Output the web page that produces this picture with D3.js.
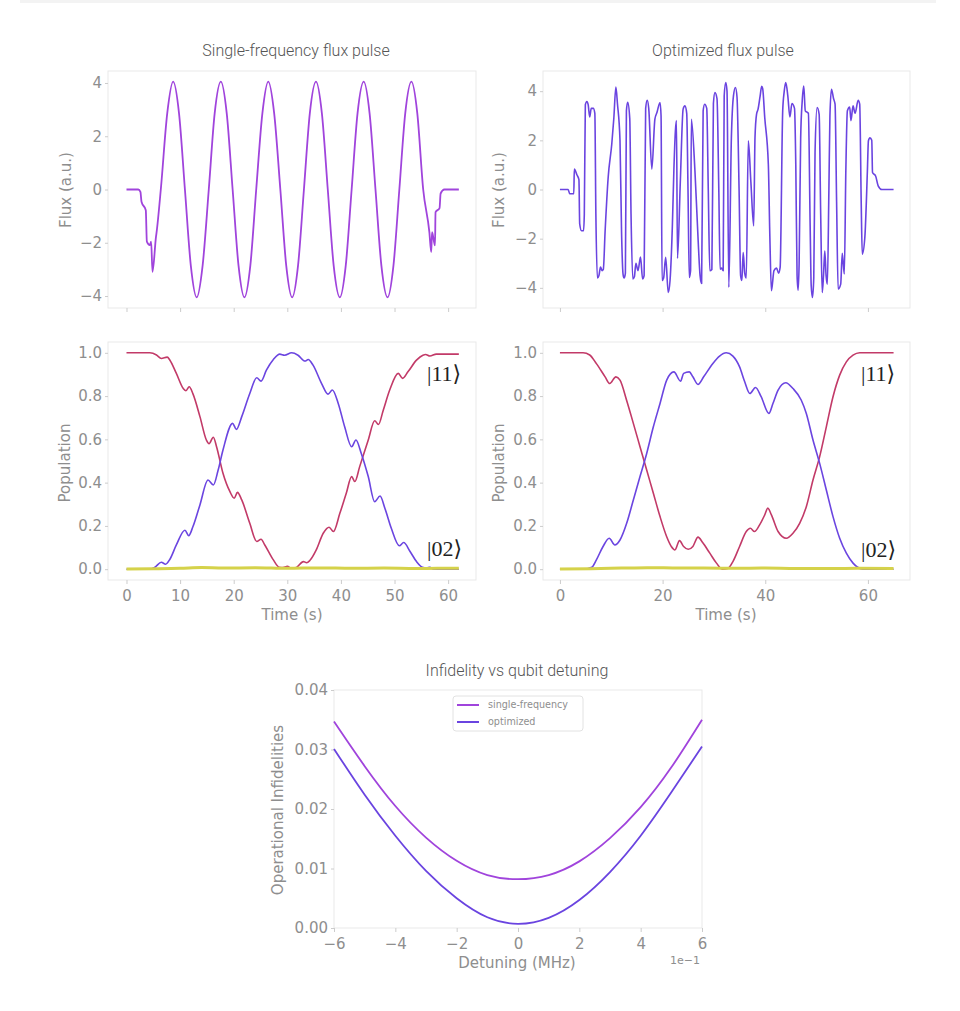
<!DOCTYPE html>
<meta charset="utf-8">
<script src="https://d3js.org/d3.v7.min.js"></script>
<style>
  body { margin: 0; background: #fff; }
</style>
<div id="chart"></div>

<script>
// values

// single-frequency flux pulse: [time (s), flux (a.u.)]
var fluxSingle = [
  [0,0],[2.2,0],[2.6,-0.09],[2.8,-0.46],[3.6,-0.78],[3.8,-1.96],[4.35,-2.09],[4.6,-1.96],
  [4.85,-3.09],[5.5,-1.78],[5.6,-1.63],[6.4,0],[7.6,2.86],[8.7,4.05],[9.8,2.86],[10.9,0],
  [12.0,-2.86],[13.1,-4.05],[14.2,-2.86],[15.35,0],[16.45,2.86],[17.6,4.05],[18.7,2.86],
  [19.8,0],[20.9,-2.86],[22.0,-4.05],[23.1,-2.86],[24.2,0],[25.35,2.86],[26.45,4.05],
  [27.55,2.86],[28.7,0],[29.8,-2.86],[30.9,-4.05],[32.0,-2.86],[33.1,0],[34.2,2.86],
  [35.35,4.05],[36.45,2.86],[37.55,0],[38.65,-2.86],[39.8,-4.05],[40.9,-2.86],[42.0,0],
  [43.1,2.86],[44.25,4.05],[45.35,2.86],[46.45,0],[47.55,-2.86],[48.7,-4.05],[49.8,-2.86],
  [50.9,0],[52.0,2.86],[53.15,4.05],[54.25,2.86],[55.35,0],[56.5,-1.6],[56.85,-2.35],
  [57.0,-1.6],[57.55,-2.1],[57.65,-0.85],[58.4,-0.7],[58.6,-0.15],[59.3,0],[62,0]
];

// optimized flux pulse: [time (s), flux (a.u.)]
var fluxOptimized = [
  [0,0],[1.6,0],[1.9,-0.17],[2.7,-0.17],[2.8,0.83],[3.3,0.6],[3.7,0.4],[3.85,-1.4],
  [4.2,-1.68],[4.6,-1.68],[4.75,-1.0],[4.95,3.45],[5.25,3.58],[5.5,3.45],[5.8,2.95],
  [6.1,3.3],[6.5,3.3],[6.8,3.1],[7.0,-1.0],[7.3,-3.6],[7.6,-3.5],[7.9,-3.15],[8.2,-3.3],
  [8.45,-3.25],[8.8,-1.7],[9.4,0.5],[10.1,1.85],[10.5,2.9],[10.9,4.17],[11.2,3.5],
  [11.7,2.0],[12.0,-1.7],[12.3,-3.45],[12.5,-3.6],[12.75,-3.4],[12.95,3.2],[13.2,3.55],
  [13.6,2.9],[13.85,-1.0],[14.2,-3.64],[14.5,-3.55],[14.8,-3.0],[15.2,-3.3],[15.7,-2.75],
  [16.1,-3.64],[16.4,-3.5],[16.7,3.3],[17.0,3.63],[17.3,3.3],[17.9,0.83],[18.5,2.86],
  [18.9,3.13],[19.5,3.54],[19.7,3.0],[19.9,-3.7],[20.2,-3.6],[20.6,-2.76],[21.1,-4.19],
  [21.45,-3.7],[21.9,-1.5],[22.2,0.8],[22.5,2.4],[22.7,2.8],[22.9,-2.8],[23.45,0.3],
  [24.0,3.27],[24.35,3.4],[24.7,3.1],[24.95,0],[25.2,-3.58],[25.45,-3.3],[25.6,2.86],
  [26.3,0.76],[26.9,-1.95],[27.3,-3.5],[27.6,-3.82],[27.9,3.2],[28.2,3.47],[28.6,3.3],
  [28.9,0],[29.2,-3.3],[29.6,-3.25],[29.9,3.5],[30.2,3.94],[30.6,3.7],[30.95,0],
  [31.2,-3.24],[31.5,-3.2],[31.8,-3.3],[32.0,3.8],[32.3,4.35],[32.55,4.0],[32.9,-3.98],
  [33.4,2.1],[33.8,3.8],[34.2,4.15],[34.5,3.75],[34.9,0],[35.2,-3.5],[35.45,-3.7],
  [35.7,-2.56],[36.0,-3.4],[36.3,-3.6],[36.7,1.98],[37.2,0.3],[37.75,-1.48],[38.0,2.1],
  [38.3,3.06],[38.6,3.27],[39.0,3.8],[39.3,4.2],[39.5,4.1],[39.9,2.93],[40.6,1.03],
  [40.9,-1.95],[41.2,-4.12],[41.7,-3.3],[42.2,-3.2],[42.6,-3.4],[42.9,-3.17],[43.4,3.2],
  [43.7,4.0],[44.0,4.35],[44.4,3.8],[44.8,2.95],[45.2,3.5],[45.7,3.3],[45.95,1.0],
  [46.2,-3.5],[46.4,-4.1],[46.6,-3.0],[46.9,2.1],[47.2,3.6],[47.5,4.21],[47.8,3.2],
  [48.4,3.1],[48.75,-1.5],[48.95,-3.9],[49.2,-4.39],[49.45,-3.6],[49.7,1.5],[50.1,3.33],
  [50.5,3.06],[50.8,-1.0],[51.1,-4.19],[51.35,-3.5],[51.6,-2.5],[51.85,-3.5],[52.1,-3.85],
  [52.4,0],[52.6,3.0],[52.9,4.08],[53.3,3.7],[53.6,3.47],[53.9,-0.5],[54.2,-4.05],
  [54.7,-3.85],[55.0,-2.6],[55.4,-3.44],[55.7,0.76],[56.0,3.2],[56.45,3.35],[56.7,2.8],
  [57.1,3.4],[57.5,3.1],[58.1,3.63],[58.4,3.47],[58.7,-0.6],[58.9,-2.63],[59.4,-1.95],
  [59.9,0.76],[60.1,1.98],[60.4,2.1],[60.75,2.0],[60.9,0.69],[61.5,0.55],[62.0,0.15],
  [62.7,0],[65,0]
];

// populations, single-frequency pulse: [time (s), population]
var pop11Single = [
  [0,1.0],[4.35,1.0],[5.6,0.99],[6.5,0.974],[7.6,0.98],[8.1,0.966],[9.3,0.905],[10.6,0.835],
  [11.1,0.825],[11.7,0.843],[12.4,0.81],[13.7,0.705],[14.9,0.597],[15.4,0.58],[16.2,0.61],
  [16.8,0.566],[18.0,0.443],[19.3,0.358],[20.1,0.328],[20.7,0.355],[21.5,0.32],[23.0,0.212],
  [24.3,0.128],[25.1,0.138],[25.8,0.112],[27.4,0.043],[28.5,0.009],[29.2,0.008],[30.0,0.013],
  [30.8,0.004],[31.7,0.008],[33.0,0.035],[33.6,0.03],[34.2,0.04],[35.4,0.089],[36.7,0.166],
  [37.8,0.194],[38.6,0.174],[39.8,0.258],[41.0,0.351],[42.0,0.428],[42.6,0.405],[43.5,0.474],
  [45.1,0.597],[46.3,0.686],[47.0,0.669],[47.9,0.735],[49.1,0.828],[50.7,0.905],[51.5,0.882],
  [52.5,0.912],[54.1,0.966],[55.3,0.989],[55.8,0.992],[56.6,0.985],[57.8,0.994],[62,0.994]
];
var pop02Single = [
  [0,0],[4.35,0],[5.3,0.009],[6.5,0.032],[7.3,0.023],[8.1,0.046],[9.3,0.112],[10.9,0.18],
  [11.6,0.155],[12.4,0.197],[13.7,0.297],[15.2,0.412],[16.2,0.389],[17.1,0.458],[18.0,0.551],
  [19.8,0.674],[20.5,0.646],[21.5,0.705],[23.0,0.812],[24.3,0.885],[25.1,0.869],[26.1,0.92],
  [27.4,0.969],[28.6,0.994],[29.5,0.989],[30.8,1.0],[32.0,0.989],[33.3,0.962],[33.9,0.969],
  [34.8,0.943],[36.4,0.858],[37.6,0.809],[38.4,0.828],[39.5,0.766],[40.7,0.658],[42.0,0.566],
  [42.8,0.597],[43.8,0.535],[45.1,0.428],[46.3,0.312],[47.3,0.338],[48.2,0.282],[49.4,0.189],
  [50.9,0.108],[51.7,0.123],[52.9,0.082],[54.1,0.035],[55.2,0.009],[56.0,0.006],[56.6,0.009],
  [57.2,0],[62,0]
];
var leakSingle = [
  [0,0.001],[5,0.002],[10,0.004],[14,0.008],[18,0.005],[24,0.007],[30,0.004],[36,0.006],
  [42,0.004],[48,0.005],[54,0.003],[58,0.004],[62,0.004]
];

// populations, optimized pulse
var pop11Opt = [
  [0,1.0],[4.5,1.0],[5.8,0.99],[7.1,0.95],[8.8,0.889],[9.7,0.858],[10.9,0.889],[11.7,0.874],
  [13.0,0.78],[14.3,0.674],[15.6,0.566],[16.9,0.458],[18.2,0.351],[19.5,0.243],[20.8,0.15],
  [21.7,0.105],[22.4,0.089],[23.3,0.132],[24.1,0.105],[25.0,0.092],[25.9,0.105],[26.9,0.148],
  [27.8,0.123],[29.2,0.074],[30.5,0.028],[31.6,0.0],[32.7,0.003],[33.7,0.035],[35.0,0.105],
  [36.3,0.174],[37.1,0.189],[37.9,0.174],[38.9,0.205],[39.9,0.251],[40.5,0.282],[41.2,0.251],
  [42.5,0.174],[44.1,0.143],[45.4,0.166],[46.7,0.212],[48.0,0.289],[49.3,0.412],[50.6,0.52],
  [51.9,0.658],[53.2,0.797],[54.5,0.897],[55.8,0.958],[57.1,0.989],[58.4,1.0],[65,1.0]
];
var pop02Opt = [
  [0,0],[4.5,0],[6.2,0.009],[7.1,0.043],[8.4,0.105],[9.6,0.143],[10.7,0.112],[11.7,0.135],
  [13.0,0.212],[14.3,0.32],[15.6,0.428],[16.9,0.535],[18.2,0.658],[19.5,0.766],[20.8,0.874],
  [22.2,0.912],[23.5,0.869],[24.1,0.905],[25.2,0.912],[25.9,0.889],[26.9,0.854],[28.0,0.889],
  [29.8,0.951],[31.1,0.985],[32.4,1.0],[33.7,0.985],[35.0,0.935],[36.0,0.866],[37.0,0.812],
  [38.1,0.84],[39.2,0.797],[40.7,0.72],[41.5,0.766],[42.5,0.828],[44.0,0.862],[45.4,0.835],
  [47.0,0.782],[48.0,0.72],[49.3,0.597],[50.6,0.489],[51.9,0.366],[53.2,0.243],[54.5,0.143],
  [55.8,0.074],[57.1,0.028],[58.0,0.009],[59.0,0],[65,0]
];
var leakOpt = [
  [0,0.001],[6,0.002],[12,0.005],[17,0.007],[22,0.006],[28,0.005],[34,0.004],[40,0.005],
  [46,0.003],[52,0.003],[58,0.004],[65,0.003]
];

// infidelity vs detuning (detuning in units of 1e-1 MHz)
var detuning = [-6, -5, -4, -3, -2, -1, 0, 1, 2, 3, 4, 5, 6];
var infidelitySingle = [0.0347, 0.0272, 0.0205, 0.0152, 0.0113, 0.0089, 0.0082, 0.0089, 0.0112, 0.0151, 0.0203, 0.0270, 0.0350];
var infidelityOpt = [0.0301, 0.0224, 0.0155, 0.0096, 0.0050, 0.0018, 0.0007, 0.0017, 0.0047, 0.0094, 0.0155, 0.0228, 0.0305];

// tick labels
var fluxTicks = [-4, -2, 0, 2, 4];
var popTicks = [0, 0.2, 0.4, 0.6, 0.8, 1.0];
var timeTicksSingle = [0, 10, 20, 30, 40, 50, 60];
var timeTicksOpt = [0, 20, 40, 60];
var detuningTicks = [-6, -4, -2, 0, 2, 4, 6];
var infidelityTicks = [0, 0.01, 0.02, 0.03, 0.04];

var legendLabels = ["single-frequency", "optimized"];

//----------------drawing stuff---------------------

var colSingle = "#a044dc", colOpt = "#6a44e0";
var colRed = "#c23a68", colBlue = "#6b45e0", colYellow = "#d5d24a";
var grey = "#8e8e8e";

var svg = d3.select("#chart")
  .append("svg")
  .attr("width", 960)
  .attr("height", 1011);

// faint band along the top edge
svg.append("rect")
  .attr("x", 20).attr("y", 0).attr("width", 916).attr("height", 3)
  .attr("fill", "#f3f3f3");

function panel(box, xDomain, yDomain) {
  var x = d3.scaleLinear().domain(xDomain).range([box.left, box.left + box.width]);
  var y = d3.scaleLinear().domain(yDomain).range([box.top + box.height, box.top]);
  svg.append("rect")
    .attr("x", box.left).attr("y", box.top)
    .attr("width", box.width).attr("height", box.height)
    .attr("fill", "none")
    .attr("stroke", "#e9e9e9");
  return {x: x, y: y, box: box};
}

function axes(p, xTicks, yTicks, xFmt, yFmt) {
  var gx = svg.append("g")
    .attr("transform", "translate(0," + (p.box.top + p.box.height) + ")")
    .call(d3.axisBottom(p.x).tickValues(xTicks).tickFormat(xFmt).tickSize(4).tickPadding(6));
  var gy = svg.append("g")
    .attr("transform", "translate(" + p.box.left + ",0)")
    .call(d3.axisLeft(p.y).tickValues(yTicks).tickFormat(yFmt).tickSize(3).tickPadding(3));
  [gx, gy].forEach(function(g) {
    g.select(".domain").remove();
    g.selectAll(".tick line").attr("stroke", "#cccccc");
    g.selectAll(".tick text")
      .attr("fill", grey)
      .style("font-family", "'DejaVu Sans', sans-serif")
      .style("font-size", "15px");
  });
}

function drawLine(p, data, color, width, curve) {
  svg.append("path")
    .datum(data)
    .attr("fill", "none")
    .attr("stroke", color)
    .attr("stroke-width", width)
    .attr("stroke-linejoin", "round")
    .attr("d", d3.line()
      .x(function(d) { return p.x(d[0]); })
      .y(function(d) { return p.y(d[1]); })
      .curve(curve || d3.curveMonotoneX));
}

function title(txt, x, y) {
  svg.append("text")
    .attr("x", x).attr("y", y)
    .attr("text-anchor", "middle")
    .style("font-family", "Roboto, sans-serif")
    .style("font-weight", 300)
    .style("font-size", "16px")
    .attr("fill", "#555")
    .text(txt);
}

function xLabel(txt, x, y) {
  svg.append("text")
    .attr("x", x).attr("y", y)
    .attr("text-anchor", "middle")
    .style("font-family", "'DejaVu Sans', sans-serif")
    .style("font-size", "15px")
    .attr("fill", grey)
    .text(txt);
}

function yLabel(txt, cx, cy) {
  svg.append("text")
    .attr("transform", "translate(" + cx + "," + cy + ") rotate(-90)")
    .attr("text-anchor", "middle")
    .attr("dy", "0.35em")
    .style("font-family", "'DejaVu Sans', sans-serif")
    .style("font-size", "15px")
    .attr("fill", grey)
    .text(txt);
}

function stateLabel(txt, x, y) {
  svg.append("text")
    .attr("x", x).attr("y", y)
    .style("font-family", "'Liberation Serif', 'DejaVu Serif', serif")
    .style("font-size", "22px")
    .attr("fill", "#222")
    .text(txt);
}

var fmtInt = d3.format("d");

//-------top row: flux pulses--------
var p1 = panel({left: 108, top: 71, width: 368, height: 237}, [-3.45, 65.2], [-4.45, 4.45]);
axes(p1, timeTicksSingle, fluxTicks, "", fmtInt);
drawLine(p1, fluxSingle, colSingle, 1.8);
title("Single-frequency flux pulse", 296, 56);
yLabel("Flux (a.u.)", 66, 190);

var p2 = panel({left: 543, top: 71, width: 367, height: 237}, [-3.3, 68.2], [-4.82, 4.82]);
axes(p2, timeTicksOpt, fluxTicks, "", fmtInt);
drawLine(p2, fluxOptimized, colOpt, 1.6);
title("Optimized flux pulse", 723, 56);
yLabel("Flux (a.u.)", 499, 190);

//-------middle row: populations--------
var p3 = panel({left: 108, top: 342, width: 368, height: 238}, [-3.45, 65.2], [-0.05, 1.05]);
axes(p3, timeTicksSingle, popTicks, fmtInt, d3.format(".1f"));
drawLine(p3, pop11Single, colRed, 1.6);
drawLine(p3, pop02Single, colBlue, 1.6);
drawLine(p3, leakSingle, colYellow, 3);
xLabel("Time (s)", 292, 620);
yLabel("Population", 65, 463);
stateLabel("|11\u27E9", 427, 381);
stateLabel("|02\u27E9", 427, 556);

var p4 = panel({left: 543, top: 342, width: 367, height: 238}, [-3.3, 68.2], [-0.05, 1.05]);
axes(p4, timeTicksOpt, popTicks, fmtInt, d3.format(".1f"));
drawLine(p4, pop11Opt, colRed, 1.6);
drawLine(p4, pop02Opt, colBlue, 1.6);
drawLine(p4, leakOpt, colYellow, 3);
xLabel("Time (s)", 726, 620);
yLabel("Population", 499, 463);
stateLabel("|11\u27E9", 861, 381);
stateLabel("|02\u27E9", 861, 557);

//-------bottom: infidelity vs detuning--------
var p5 = panel({left: 334, top: 690, width: 368, height: 238}, [-6, 6], [0, 0.04]);
axes(p5, detuningTicks, infidelityTicks, fmtInt, d3.format(".2f"));
drawLine(p5, detuning.map(function(d, i) { return [d, infidelitySingle[i]]; }), colSingle, 1.8, d3.curveNatural);
drawLine(p5, detuning.map(function(d, i) { return [d, infidelityOpt[i]]; }), colOpt, 1.8, d3.curveNatural);
title("Infidelity vs qubit detuning", 517, 676);
xLabel("Detuning (MHz)", 517, 968);
yLabel("Operational Infidelities", 278, 810);

svg.append("text")
  .attr("x", 700).attr("y", 964)
  .attr("text-anchor", "end")
  .style("font-family", "'DejaVu Sans', sans-serif")
  .style("font-size", "11px")
  .attr("fill", grey)
  .text("1e\u22121");

// legend
var legend = svg.append("g").attr("transform", "translate(453,696)");
legend.append("rect")
  .attr("width", 130).attr("height", 35).attr("rx", 3)
  .attr("fill", "#fff").attr("stroke", "#e2e2e2");
[colSingle, colOpt].forEach(function(c, i) {
  legend.append("line")
    .attr("x1", 4).attr("x2", 26)
    .attr("y1", 9 + i * 17).attr("y2", 9 + i * 17)
    .attr("stroke", c).attr("stroke-width", 2);
  legend.append("text")
    .attr("x", 35).attr("y", 9 + i * 17)
    .attr("dy", "0.35em")
    .style("font-family", "'DejaVu Sans', sans-serif")
    .style("font-size", "9.6px")
    .attr("fill", grey)
    .text(legendLabels[i]);
});
</script>
